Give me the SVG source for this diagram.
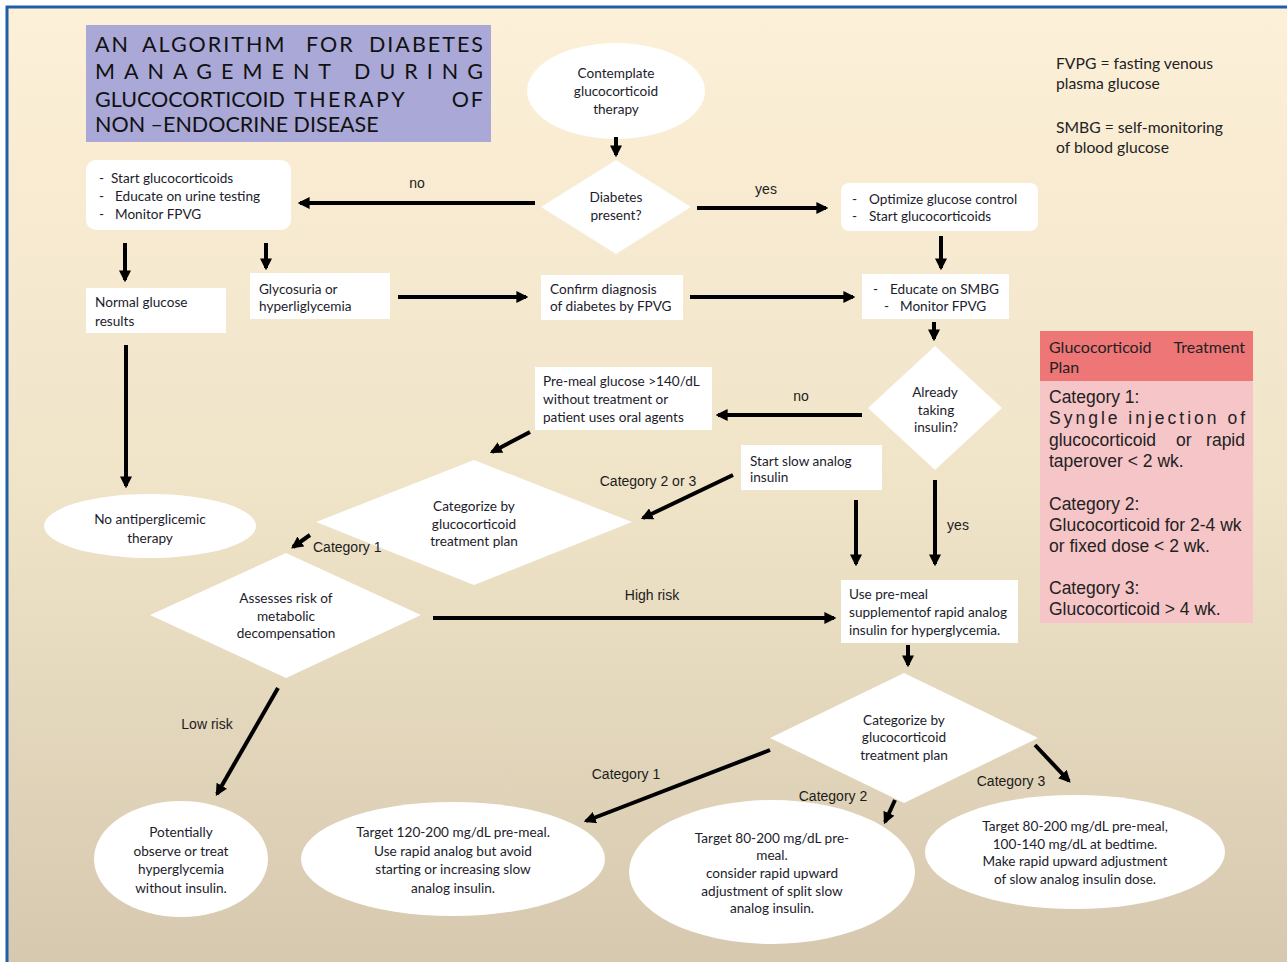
<svg xmlns="http://www.w3.org/2000/svg" width="1287" height="962" viewBox="0 0 1287 962">
<defs>
<linearGradient id="bg" x1="0" y1="0" x2="0" y2="1">
<stop offset="0" stop-color="#fdf0d8"/>
<stop offset="0.5" stop-color="#efe3c8"/>
<stop offset="1" stop-color="#d5c8ae"/>
</linearGradient>
<marker id="ah" viewBox="0 0 10 10" refX="8" refY="5" markerWidth="3" markerHeight="3" orient="auto" markerUnits="strokeWidth">
<path d="M0,0 L10,5 L0,10 z" fill="#000"/>
</marker>
</defs>
<style>
.g{font-family:Lato,"Open Sans","Noto Sans",sans-serif;font-size:13.6px;fill:#1c1c2c}
.a{font-family:"Liberation Sans",Arial,sans-serif;font-size:14px;fill:#1c1c1c}
.c{text-anchor:middle}
.e{text-anchor:end}
.box{fill:#fff}
.ln{stroke:#000;stroke-width:4;fill:none;marker-end:url(#ah)}
.title{font-family:Lato,"Open Sans",sans-serif;font-size:21.5px;fill:#111}
.t1{letter-spacing:2px}
.t3{letter-spacing:2.5px}
.tp{font-family:"Liberation Sans",Arial,sans-serif;font-size:17.5px;fill:#222}
.tph{font-family:Lato,"Open Sans",sans-serif;font-size:16px;fill:#222}
.leg{font-family:Lato,"Open Sans",sans-serif;font-size:15.7px;fill:#222}
</style>
<rect x="0" y="0" width="1287" height="962" fill="#fff"/>
<rect x="8" y="8" width="1290" height="970" fill="url(#bg)"/>
<path d="M7,970 V7 H1287" stroke="#1f5fa8" stroke-width="3" fill="none"/>

<g id="title">
<rect x="86" y="25" width="405" height="117" fill="#a9a8d7"/>
<text class="title t1" x="95" y="52">AN</text>
<text class="title t1" x="142" y="52">ALGORITHM</text>
<text class="title t1" x="306" y="52">FOR</text>
<text class="title t1 e" x="485" y="52">DIABETES</text>
<text class="title" x="95" y="79" textLength="388" lengthAdjust="spacing">MANAGEMENT DURING</text>
<text class="title" x="95" y="107">GLUCOCORTICOID</text>
<text class="title t3" x="294" y="107">THERAPY</text>
<text class="title t1 e" x="485" y="107">OF</text>
<text class="title" x="95" y="132">NON –ENDOCRINE DISEASE</text>
</g>

<g id="legend">
<text class="leg" x="1056" y="69">FVPG = fasting venous</text>
<text class="leg" x="1056" y="89">plasma glucose</text>
<text class="leg" x="1056" y="133">SMBG = self-monitoring</text>
<text class="leg" x="1056" y="153">of blood glucose</text>
</g>

<g id="treatment-plan">
<rect x="1040" y="331" width="213" height="292" fill="#f5c5c7"/>
<rect x="1040" y="331" width="213" height="50" fill="#ee7676"/>
<text class="tph" x="1049" y="353">Glucocorticoid</text>
<text class="tph e" x="1245" y="353">Treatment</text>
<text class="tph" x="1049" y="373">Plan</text>
<text class="tp" x="1049" y="403">Category 1:</text>
<text class="tp" x="1049" y="424" textLength="196" lengthAdjust="spacing">Syngle injection of</text>
<text class="tp" x="1049" y="446">glucocorticoid</text>
<text class="tp" x="1176" y="446">or</text>
<text class="tp e" x="1245" y="446">rapid</text>
<text class="tp" x="1049" y="467">taperover &lt; 2 wk.</text>
<text class="tp" x="1049" y="510">Category 2:</text>
<text class="tp" x="1049" y="531">Glucocorticoid for 2-4 wk</text>
<text class="tp" x="1049" y="552">or fixed dose &lt; 2 wk.</text>
<text class="tp" x="1049" y="594">Category 3:</text>
<text class="tp" x="1049" y="615">Glucocorticoid &gt; 4 wk.</text>
</g>

<g id="contemplate">
<ellipse class="box" cx="616" cy="91" rx="89" ry="48"/>
<text class="g c" x="616" y="78">Contemplate</text>
<text class="g c" x="616" y="96">glucocorticoid</text>
<text class="g c" x="616" y="114">therapy</text>
</g>

<g id="diabetes-present">
<polygon class="box" points="616,160 691,207 616,254 541,207"/>
<text class="g c" x="616" y="202">Diabetes</text>
<text class="g c" x="616" y="220">present?</text>
</g>

<g id="start-gc-left">
<rect class="box" x="86" y="160" width="205" height="70" rx="10"/>
<text class="g" x="99" y="183">-</text><text class="g" x="111" y="183">Start glucocorticoids</text>
<text class="g" x="99" y="201">-</text><text class="g" x="115" y="201">Educate on urine testing</text>
<text class="g" x="99" y="219">-</text><text class="g" x="115" y="219">Monitor FPVG</text>
</g>

<g id="optimize">
<rect class="box" x="841" y="183" width="197" height="48" rx="8"/>
<text class="g" x="852" y="204">-</text><text class="g" x="869" y="204">Optimize glucose control</text>
<text class="g" x="852" y="221">-</text><text class="g" x="869" y="221">Start glucocorticoids</text>
</g>

<g id="normal-glucose">
<rect class="box" x="86" y="288" width="140" height="45"/>
<text class="g" x="95" y="307">Normal glucose</text>
<text class="g" x="95" y="326">results</text>
</g>

<g id="glycosuria">
<rect class="box" x="250" y="273" width="140" height="46"/>
<text class="g" x="259" y="294">Glycosuria or</text>
<text class="g" x="259" y="311">hyperliglycemia</text>
</g>

<g id="confirm">
<rect class="box" x="541" y="275" width="142" height="45"/>
<text class="g" x="550" y="294">Confirm diagnosis</text>
<text class="g" x="550" y="311">of diabetes by FPVG</text>
</g>

<g id="educate-smbg">
<rect class="box" x="862" y="274" width="147" height="45"/>
<text class="g" x="873" y="294">-</text><text class="g" x="890" y="294">Educate on SMBG</text>
<text class="g" x="884" y="311">-</text><text class="g" x="900" y="311">Monitor FPVG</text>
</g>

<g id="already-insulin">
<polygon class="box" points="935,346 1002,408 935,470 868,408"/>
<text class="g c" x="935" y="397">Already</text>
<text class="g c" x="936" y="415">taking</text>
<text class="g c" x="936" y="432">insulin?</text>
</g>

<g id="pre-meal">
<rect class="box" x="535" y="367" width="177" height="63"/>
<text class="g" x="543" y="386">Pre-meal glucose &gt;140/dL</text>
<text class="g" x="543" y="404">without treatment or</text>
<text class="g" x="543" y="422">patient uses oral agents</text>
</g>

<g id="categorize-1">
<polygon class="box" points="474,460 632,522 474,585 316,522"/>
<text class="g c" x="474" y="511">Categorize by</text>
<text class="g c" x="474" y="529">glucocorticoid</text>
<text class="g c" x="474" y="546">treatment plan</text>
</g>

<g id="start-slow">
<rect class="box" x="741" y="445" width="141" height="45"/>
<text class="g" x="750" y="466">Start slow analog</text>
<text class="g" x="750" y="482">insulin</text>
</g>

<g id="no-antihyper">
<ellipse class="box" cx="150" cy="526" rx="106" ry="32"/>
<text class="g c" x="150" y="524">No antiperglicemic</text>
<text class="g c" x="150" y="543">therapy</text>
</g>

<g id="assess-risk">
<polygon class="box" points="286,553 421,615 286,678 150,615"/>
<text class="g c" x="286" y="603">Assesses risk of</text>
<text class="g c" x="286" y="621">metabolic</text>
<text class="g c" x="286" y="638">decompensation</text>
</g>

<g id="use-premeal">
<rect class="box" x="841" y="580" width="177" height="63"/>
<text class="g" x="849" y="599">Use pre-meal</text>
<text class="g" x="849" y="617">supplementof rapid analog</text>
<text class="g" x="849" y="635">insulin for hyperglycemia.</text>
</g>

<g id="categorize-2">
<polygon class="box" points="904,673 1038,738 904,803 770,738"/>
<text class="g c" x="904" y="725">Categorize by</text>
<text class="g c" x="904" y="742">glucocorticoid</text>
<text class="g c" x="904" y="760">treatment plan</text>
</g>

<g id="potentially">
<ellipse class="box" cx="181" cy="859" rx="87" ry="58"/>
<text class="g c" x="181" y="837">Potentially</text>
<text class="g c" x="181" y="856">observe or treat</text>
<text class="g c" x="181" y="874">hyperglycemia</text>
<text class="g c" x="181" y="893">without insulin.</text>
</g>

<g id="target-cat1">
<ellipse class="box" cx="453" cy="859" rx="152" ry="57"/>
<text class="g c" x="453" y="837">Target 120-200 mg/dL pre-meal.</text>
<text class="g c" x="453" y="856">Use rapid analog but avoid</text>
<text class="g c" x="453" y="874">starting or increasing slow</text>
<text class="g c" x="453" y="893">analog insulin.</text>
</g>

<g id="target-cat2">
<ellipse class="box" cx="772" cy="872" rx="143" ry="72"/>
<text class="g c" x="772" y="843">Target 80-200 mg/dL pre-</text>
<text class="g c" x="772" y="860">meal.</text>
<text class="g c" x="772" y="878">consider rapid upward</text>
<text class="g c" x="772" y="896">adjustment of split slow</text>
<text class="g c" x="772" y="913">analog insulin.</text>
</g>

<g id="target-cat3">
<ellipse class="box" cx="1075" cy="852" rx="150" ry="57"/>
<text class="g c" x="1075" y="831">Target 80-200 mg/dL pre-meal,</text>
<text class="g c" x="1075" y="849">100-140 mg/dL at bedtime.</text>
<text class="g c" x="1075" y="866">Make rapid upward adjustment</text>
<text class="g c" x="1075" y="884">of slow analog insulin dose.</text>
</g>

<g id="connectors">
<line class="ln" x1="616" y1="137" x2="616" y2="155"/>
<line class="ln" x1="535" y1="203" x2="300" y2="203"/>
<line class="ln" x1="697" y1="208" x2="826" y2="208"/>
<line class="ln" x1="125" y1="243" x2="125" y2="280"/>
<line class="ln" x1="266" y1="243" x2="266" y2="268"/>
<line class="ln" x1="941" y1="236" x2="941" y2="268"/>
<line class="ln" x1="398" y1="297" x2="526" y2="297"/>
<line class="ln" x1="690" y1="297" x2="853" y2="297"/>
<line class="ln" x1="934" y1="322" x2="934" y2="339"/>
<line class="ln" x1="862" y1="415" x2="718" y2="415"/>
<line class="ln" x1="530" y1="432" x2="492" y2="452"/>
<line class="ln" x1="733" y1="475" x2="643" y2="518"/>
<line class="ln" x1="856" y1="500" x2="856" y2="564"/>
<line class="ln" x1="935" y1="480" x2="935" y2="564"/>
<line class="ln" x1="310" y1="535" x2="293" y2="547"/>
<line class="ln" x1="126" y1="345" x2="126" y2="486"/>
<line class="ln" x1="433" y1="618" x2="834" y2="618"/>
<line class="ln" x1="908" y1="645" x2="908" y2="665"/>
<line class="ln" x1="770" y1="750" x2="586" y2="821"/>
<line class="ln" x1="895" y1="800" x2="885" y2="822"/>
<line class="ln" x1="1035" y1="745" x2="1069" y2="781"/>
<line class="ln" x1="278" y1="688" x2="217" y2="794"/>
<text class="a" x="417" y="188" text-anchor="middle">no</text>
<text class="a" x="766" y="194" text-anchor="middle">yes</text>
<text class="a" x="801" y="401" text-anchor="middle">no</text>
<text class="a" x="648" y="486" text-anchor="middle">Category 2 or 3</text>
<text class="a" x="958" y="530" text-anchor="middle">yes</text>
<text class="a" x="313" y="552">Category 1</text>
<text class="a" x="652" y="600" text-anchor="middle">High risk</text>
<text class="a" x="207" y="729" text-anchor="middle">Low risk</text>
<text class="a" x="626" y="779" text-anchor="middle">Category 1</text>
<text class="a" x="833" y="801" text-anchor="middle">Category 2</text>
<text class="a" x="1011" y="786" text-anchor="middle">Category  3</text>
</g>
</svg>
